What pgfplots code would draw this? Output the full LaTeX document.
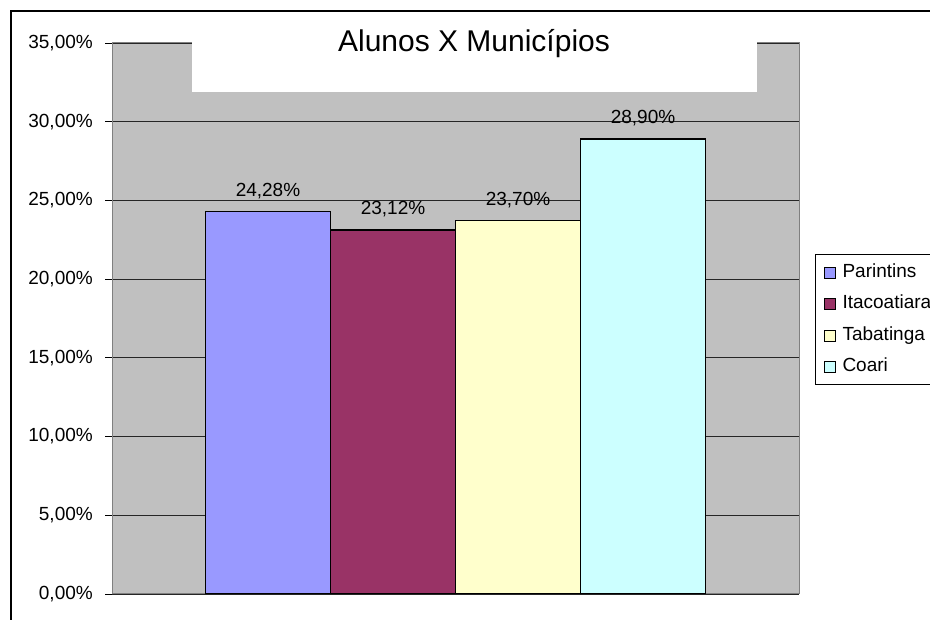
\documentclass[border=0pt]{standalone}
\usepackage{fontspec}
\setmainfont{Liberation Sans}
\usepackage{pgfplots}
\pgfplotsset{compat=1.18}

\definecolor{plotbg}{HTML}{C0C0C0}
\definecolor{framegray}{HTML}{808080}
\definecolor{cParintins}{HTML}{9999FF}
\definecolor{cItacoatiara}{HTML}{993366}
\definecolor{cTabatinga}{HTML}{FFFFCC}
\definecolor{cCoari}{HTML}{CCFFFF}

\newcommand{\txt}{\fontsize{19bp}{23bp}\selectfont}

\begin{document}
\begin{tikzpicture}[x=1bp,y=1bp]
\useasboundingbox (0,0) rectangle (930,620);
\fill[white] (0,0) rectangle (930,620);
% outer chart frame (right and bottom edges fall outside the picture)
\draw[line width=2bp] (11,609) rectangle (960,-20);

\begin{axis}[
  at={(112bp,26bp)}, anchor=south west,
  scale only axis, width=687bp, height=551bp,
  xmin=0, xmax=2, ymin=0, ymax=35,
  xtick=\empty,
  ytick={0,5,...,35},
  yticklabel={\pgfmathprintnumber[fixed,fixed zerofill,precision=2,use comma]{\tick}\%},
  /pgf/number format/assume math mode=true,
  yticklabel style={font=\txt, inner sep=0pt, xshift=-12bp},
  ytick pos=left, tick align=outside, major tick length=7bp,
  tick style={black, line width=0.8bp},
  ymajorgrids, major grid style={black!85, line width=0.8bp},
  axis line style={draw=framegray, line width=1bp},
  axis background/.style={fill=plotbg},
  ybar, bar width=0.3639,
  every axis plot/.append style={draw=black, line width=1.2bp},
  point meta=y,
  nodes near coords={\pgfmathprintnumber[fixed,fixed zerofill,precision=2,use comma]{\pgfplotspointmeta}\%},
  nodes near coords style={anchor=base, inner sep=0pt, yshift=15.5bp, font=\txt, black},
  legend image code/.code={\draw[#1, draw=black, line width=1bp] (0bp,-1bp) rectangle (11bp,10bp);},
  legend cell align=left,
  legend style={at={(1.0233,0.6171)}, anchor=north west, draw=black, line width=1bp,
    fill=white, inner xsep=8bp, inner ysep=9bp, row sep=13.5bp, column sep=7bp, font=\txt,
    nodes={inner sep=0pt, text height=14bp, text depth=4bp, anchor=base west}},
]
\addplot[fill=cParintins, bar shift=-0.5459] coordinates {(1,24.28)};
\addplot[fill=cItacoatiara, bar shift=-0.18195] coordinates {(1,23.12)};
\addplot[fill=cTabatinga, bar shift=0.18195] coordinates {(1,23.70)};
\addplot[fill=cCoari, bar shift=0.5459] coordinates {(1,28.90)};
\legend{Parintins, Itacoatiara, Tabatinga, Coari}
\end{axis}

% title box cut into the plot area
\fill[white] (192,528) rectangle (757,608);
\node[anchor=base, inner sep=0pt, font=\fontsize{30bp}{36bp}\selectfont] at (474,568) {Alunos X Municípios};
\end{tikzpicture}
\end{document}
